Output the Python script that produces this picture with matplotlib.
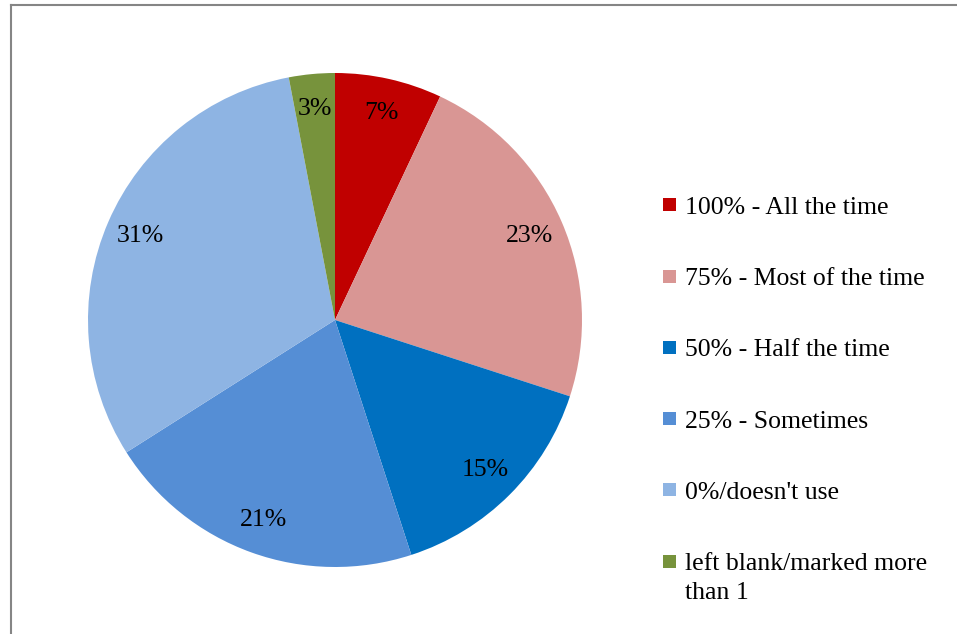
import matplotlib.pyplot as plt
from matplotlib.patches import Rectangle
from matplotlib.lines import Line2D

plt.rcParams['font.family'] = ['Liberation Serif', 'DejaVu Serif']

labels = ['100% - All the time', '75% - Most of the time', '50% - Half the time',
          '25% - Sometimes', "0%/doesn't use", 'left blank/marked more\nthan 1']
shares = [7, 23, 15, 21, 31, 3]
colors = ['#C00000', '#D99694', '#0070C0', '#558ED5', '#8EB4E3', '#77933C']

W, H = 957, 634
FS = 18.5
fig = plt.figure(figsize=(W / 100, H / 100), dpi=100)

# pie centred at (335, 320) px, radius 247 px
cx, cy, r = 335, 320, 247
ax = fig.add_axes([(cx - r) / W, (H - cy - r) / H, 2 * r / W, 2 * r / H])
ax.pie(shares, colors=colors, startangle=90, counterclock=False,
       autopct='%d%%', pctdistance=0.86, radius=1,
       wedgeprops=dict(linewidth=0),
       textprops=dict(fontsize=FS, color='black'))
ax.set_xlim(-1, 1)
ax.set_ylim(-1, 1)
ax.set_aspect('equal')
ax.axis('off')

# legend drawn by hand on the right, text top-aligned so wrapped labels run downward
for i, (lab, col) in enumerate(zip(labels, colors)):
    ymid = 205 + 71.2 * i
    fig.add_artist(Rectangle((663 / W, 1 - (ymid + 6.5) / H), 13 / W, 13 / H,
                             transform=fig.transFigure, facecolor=col,
                             edgecolor='none'))
    fig.text(685 / W, 1 - (ymid - 8) / H, lab, fontsize=FS, va='top',
             ha='left', linespacing=1.4)

# chart area border (top and left edges visible)
border = dict(color='#858585', linewidth=1.5, transform=fig.transFigure)
fig.add_artist(Line2D([10.5 / W, 10.5 / W], [0, 1 - 5 / H], **border))
fig.add_artist(Line2D([10.5 / W, 1], [1 - 5 / H, 1 - 5 / H], **border))

fig.savefig('out.png', dpi=100)
